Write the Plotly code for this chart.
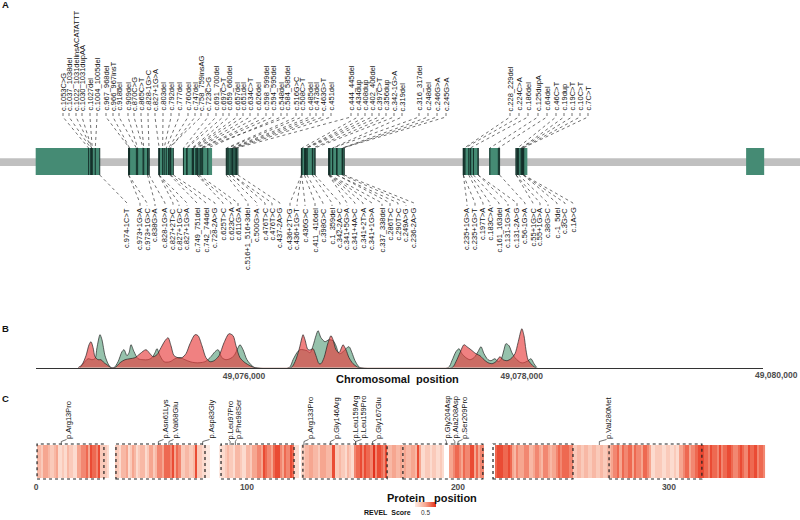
import re
import plotly.graph_objects as go

W, H = 800, 520
FONT = "Liberation Sans, Arial, sans-serif"
ORIGIN = 49_074_000

# ======================= DATA =======================
# ---- Panel A: gene model (minus strand), genomic coordinates ----
exon_start = [49074500, 49075170, 49075390, 49075560, 49075875, 49076415,
              49076615, 49077580, 49077765, 49077960, 49079615]
exon_end = [49074960, 49075315, 49075489, 49075770, 49075954, 49076509,
            49076720, 49077684, 49077839, 49078040, 49079745]
exon_cdna_first = [974, 828, 728, 517, 437, 342, 236, 131, 56, 1, None]
exon_cdna_last = [1053, 973, 827, 727, 516, 436, 341, 235, 130, 55, None]
exon_cdna_first_genomic = [49074960, 49075315, 49075489, 49075770, 49075954,
                           49076509, 49076720, 49077684, 49077839, 49078014, None]
gene_track_range = [49074243, 49080003]

top_variants = [
    "c.1053C>G", "c.1037_1038del", "c.1022_1031delinsACATATTT", "c.1030_1031dupAA",
    "c.1027del", "c.1004_1005del", "c.967_968del", "c.966_967insT", "c.918del",
    "c.909del", "c.870C>G", "c.865C>T", "c.828-1G>C", "c.827+1G>A", "c.803del",
    "c.792del", "c.777del", "c.760del", "c.747del", "c.758_759insAG", "c.723C>G",
    "c.691_700del", "c.697C>T", "c.659_660del", "c.657del", "c.651del", "c.634C>T",
    "c.626del", "c.598_599del", "c.594_595del", "c.548del", "c.584_585del",
    "c.516G>C", "c.508C>T", "c.485del", "c.473del", "c.463G>T", "c.451del",
    "c.444_445del", "c.434dup", "c.408dup", "c.402_406del", "c.397C>T", "c.356dup",
    "c.342-1G>A", "c.319del", "c.316_317del", "c.248del", "c.246G>A", "c.245G>A",
    "c.228_229del", "c.224C>A", "c.186del", "c.125dupA", "c.64del", "c.46C>T",
    "c.19dup", "c.19C>T", "c.10C>T", "c.7C>T"]

bottom_variants = [
    "c.974-1C>T", "c.973+1G>A", "c.973+1G>C", "c.838G>A", "c.828-1G>A",
    "c.827+2T>C", "c.827+1G>C", "c.827+1G>A", "c.749_751del", "c.742_744del",
    "c.728-2A>G", "c.625T>C", "c.623C>A", "c.611G>A", "c.516+1_516+3del",
    "c.500G>A", "c.476T>C", "c.476T>C", "c.437-2A>G", "c.436+2T>G", "c.436+1G>T",
    "c.436G>C", "c.411_416del", "c.398G>C", "c.1_359del", "c.342-2A>C",
    "c.341+5G>A", "c.341+4A>C", "c.341+2T>A", "c.341+1G>A", "c.337_338del",
    "c.286T>C", "c.290T>C", "c.249A>G", "c.236-2A>G", "c.235+1G>A", "c.235+1G>T",
    "c.197T>A", "c.183C>A", "c.161_163del", "c.131-1G>A", "c.131-2A>G",
    "c.56-1G>A", "c.55+1G>C", "c.55+1G>A", "c.38G>C", "c.-1_5del", "c.3G>C",
    "c.1A>G"]

# ---- Panel B: variant density along the chromosome (offset bp from 49,074,000) ----
density_red_offset = [
    805, 833, 862, 884, 898, 913, 927, 949, 970, 992, 1013, 1042,
    1071, 1107, 1143, 1179, 1215, 1251, 1294, 1323, 1345, 1373, 1402, 1431, 1453, 1474,
    1496, 1525, 1553, 1582, 1611, 1647, 1669, 1697, 1726, 1755, 1784, 1820, 1856, 1892,
    1921, 1942, 1971, 2007, 2043, 2079,
    2338, 2367, 2396, 2417, 2425, 2439, 2461, 2482, 2497, 2518, 2540, 2554, 2576, 2605,
    2626, 2641, 2662, 2684, 2705, 2713, 2734, 2756, 2785, 2813, 2828,
    3497, 3526, 3555, 3584, 3605, 3634, 3670, 3699, 3728, 3757, 3785, 3814, 3843, 3865,
    3893, 3922, 3951, 3973, 3994, 4001, 4016, 4030, 4045, 4066, 4088, 4102]
density_red = [
    0, 3, 12, 23, 26, 20, 11, 8, 8, 5, 3, 0,
    0, 5, 8, 9, 10, 14, 18, 14, 11, 13, 20, 27, 30, 22, 12, 10, 10, 14, 24, 33,
    32, 22, 10, 6, 7, 12, 25, 34, 32, 22, 10, 5, 2, 0,
    0, 6, 18, 30, 33, 28, 18, 18, 19, 12, 4, 4, 10, 25, 32, 28, 18, 15, 21, 23,
    18, 10, 4, 1, 0,
    0, 6, 15, 23, 21, 18, 14, 12, 8, 5, 4, 6, 11, 8, 7, 9, 14, 25, 37, 39,
    32, 18, 8, 4, 1, 0]
density_green_offset = [
    819, 848, 877, 905, 927, 941, 963, 977, 999, 1021, 1042,
    1064, 1093, 1121, 1136, 1157, 1172, 1186, 1208, 1237, 1273, 1309, 1337, 1359, 1373,
    1395, 1424, 1467, 1503, 1539, 1575, 1611, 1647, 1683, 1719, 1755, 1791, 1813, 1841,
    1870, 1899, 1928, 1957, 1971, 1993, 2021, 2057, 2079,
    2324, 2353, 2381, 2403, 2425, 2453, 2475, 2497, 2518, 2533, 2554, 2583, 2612, 2641,
    2662, 2684, 2705, 2734, 2756, 2777, 2799, 2821, 2835,
    3469, 3497, 3526, 3548, 3569, 3598, 3627, 3656, 3685, 3706, 3728, 3757, 3778, 3807,
    3829, 3850, 3872, 3886, 3908, 3929, 3951, 3973, 3994, 4016, 4045, 4066, 4088, 4109]
density_green = [
    0, 5, 9, 8, 9, 20, 33, 28, 12, 4, 0,
    0, 6, 16, 18, 12, 15, 23, 16, 9, 8, 8, 10, 15, 19, 12, 6, 6, 9, 10, 8,
    6, 5, 5, 6, 10, 16, 18, 10, 8, 9, 12, 20, 23, 18, 8, 2, 0,
    0, 8, 15, 18, 18, 17, 15, 22, 32, 37, 30, 26, 28, 27, 22, 14, 15, 19, 21, 15,
    7, 2, 0,
    0, 7, 16, 19, 14, 10, 8, 10, 16, 21, 14, 8, 7, 9, 6, 8, 18, 24, 22, 15,
    10, 7, 5, 5, 7, 9, 4, 0]
chrom_ticks = [49076000, 49078000]
chrom_tick_text = ["49,076,000", "49,078,000"]

# ---- Panel C: REVEL score per residue (tenths; '-' = no score) ----
revel_segments = [
    "4435543345", "2232433225", "5667587768", "3332", "---",
    "33244523542344235534", "66577768576", "3344334833", "2211", "----", "1",
    "2234332443224435", "5665876657886576687", "22-23", "44554435554448",
    "334332432", "6778687769688768", "4455445", "454455485", "22332332232", "--",
    "55677657668857566", "-----", "78887787", "5465556644566546654556", "7677766",
    "334434433443343344", "5667576677576657765", "2233322332232", "556775667888",
    "77687768677887667876687786776"]
domain_start = [0.5, 37.9, 87.7, 126.5, 173.9, 216.6, 271.6]
domain_end = [32.2, 80.1, 122.3, 166.4, 211.8, 254.5, 315.6]
protein_variants = ["p.Arg13Pro", "p.Asn61Lys", "p.Val68Glu", "p.Asp83Gly", "p.Leu97Pro",
                    "p.Phe98Ser", "p.Arg133Pro", "p.Gly146Arg", "p.Leu159Arg", "p.Leu159Pro",
                    "p.Gly167Glu", "p.Gly204Asp", "p.Ala208Asp", "p.Ser209Pro", "p.Val280Met"]
protein_variant_track_pos = [12, 58, 63, 79, 92, 94.5, 127, 139.5, 151.5, 151.5, 159.5,
                             194.5, 198.5, 200, 267]
protein_ticks = [0, 100, 200, 300]

# ======================= LAYOUT (label placement, px) =======================
TOP_LABEL_PX = [63, 69, 76, 82, 90, 97, 106, 113, 119, 128, 134, 141, 148, 155, 163,
                171, 179, 188, 195, 201, 208, 216, 223, 229, 237, 243, 250, 258, 266,
                273, 281, 287, 296, 302, 310, 316, 323, 331, 351, 358, 365, 372, 379,
                386, 394, 402, 419, 428, 437, 446, 510, 519, 528, 538, 547, 556, 564,
                572, 580, 588]
BOTTOM_LABEL_PX = [127, 140, 147, 155, 165, 173, 179, 187, 197, 206, 215, 223, 231,
                   238, 248, 257, 265, 272, 280, 290, 297, 305, 315, 323, 332, 340,
                   347, 355, 363, 372, 382, 390, 398, 406, 414, 467, 475, 483, 490,
                   499, 508, 517, 525, 533, 540, 548, 557, 565, 573]
PROT_LABEL_PX = [68, 165, 175, 211, 230, 238, 310, 336, 355, 363, 378, 447, 455, 464, 608]

EXON_TOP, EXON_BOT = 148, 175
TOP_TEXT_BOTTOM, BOT_TEXT_TOP = 112, 207
PANELB_BASE, PANELB_TOP = 367.7, 325.7
STRIP_TOP, STRIP_BOT = 445, 478
PROT_RANGE = [-17.06, 362.1]


def px_x(px):
    return px / W


def px_y(py):
    return 1 - py / H


# ======================= helpers =======================
POS_RE = re.compile(r"c\.(-?\d+(?:[+-]\d+)?)(?:_(-?\d+(?:[+-]\d+)?))?")


def variant_genomic(label):
    m = POS_RE.match(label)
    pos = m.group(2) or m.group(1)
    mm = re.match(r"(-?\d+)([+-]\d+)?", pos)
    base = int(mm.group(1))
    off = int(mm.group(2)) if mm.group(2) else 0
    idx = None
    for i, (cs, ce) in enumerate(zip(exon_cdna_first, exon_cdna_last)):
        if cs is not None and cs <= base <= ce:
            idx = i
            break
    if idx is None:  # 5' UTR
        idx = exon_cdna_first.index(1)
    return exon_cdna_first_genomic[idx] - (base - exon_cdna_first[idx]) - off


def gene_px_to_data(px):
    a, b = gene_track_range
    return a + px / W * (b - a)


def prot_px_to_data(px):
    a, b = PROT_RANGE
    return a + px / W * (b - a)


fig = go.Figure()

# ---------- Panel A ----------
shapes = []
shapes.append(dict(type="rect", xref="x", yref="y", x0=gene_track_range[0], x1=gene_track_range[1],
                   y0=-0.33, y1=0.24, fillcolor="#c0c0c0", line=dict(width=0), layer="below"))
for s, e in zip(exon_start, exon_end):
    shapes.append(dict(type="rect", xref="x", yref="y", x0=s, x1=e, y0=-1, y1=1,
                       fillcolor="#458B74", line=dict(width=0), layer="below"))

top_g = [variant_genomic(v) for v in top_variants]
bot_g = [variant_genomic(v) for v in bottom_variants]
mx, my = [], []
for g in top_g + bot_g:
    mx += [g, g, None]
    my += [-1, 1, None]
fig.add_trace(go.Scatter(x=mx, y=my, mode="lines", line=dict(color="#14302a", width=1),
                         xaxis="x", yaxis="y", hoverinfo="skip", showlegend=False))

path_top = ""
for g, lpx in zip(top_g, TOP_LABEL_PX):
    lx = gene_px_to_data(lpx)
    path_top += f"M{lx},{px_y(TOP_TEXT_BOTTOM + 1)} L{lx},{px_y(TOP_TEXT_BOTTOM + 5)} L{g},{px_y(EXON_TOP)} "
path_bot = ""
for g, lpx in zip(bot_g, BOTTOM_LABEL_PX):
    lx = gene_px_to_data(lpx)
    path_bot += f"M{g},{px_y(EXON_BOT)} L{lx},{px_y(BOT_TEXT_TOP - 4)} L{lx},{px_y(BOT_TEXT_TOP - 1)} "
for p in (path_top, path_bot):
    shapes.append(dict(type="path", xref="x", yref="paper", path=p,
                       line=dict(color="#333333", width=0.7, dash="dot")))

annotations = []
lab_font = dict(family=FONT, size=7.5, color="#111111")
for txt, lpx in zip(top_variants, TOP_LABEL_PX):
    annotations.append(dict(text=txt, x=px_x(lpx), y=px_y(TOP_TEXT_BOTTOM), xref="paper", yref="paper",
                            textangle=-90, xanchor="center", yanchor="bottom", showarrow=False,
                            font=lab_font, borderpad=0))
for txt, lpx in zip(bottom_variants, BOTTOM_LABEL_PX):
    annotations.append(dict(text=txt, x=px_x(lpx), y=px_y(BOT_TEXT_TOP), xref="paper", yref="paper",
                            textangle=-90, xanchor="center", yanchor="top", showarrow=False,
                            font=lab_font, borderpad=0))

# ---------- Panel B ----------
fig.add_trace(go.Scatter(x=[ORIGIN + v for v in density_green_offset], y=density_green,
                         mode="lines", fill="tozeroy", fillcolor="rgba(110,170,140,0.72)",
                         line=dict(color="#222222", width=0.7, shape="spline", smoothing=0.8),
                         xaxis="x2", yaxis="y2", hoverinfo="skip", showlegend=False))
fig.add_trace(go.Scatter(x=[ORIGIN + v for v in density_red_offset], y=density_red,
                         mode="lines", fill="tozeroy", fillcolor="rgba(232,62,62,0.65)",
                         line=dict(color="#222222", width=0.7, shape="spline", smoothing=0.8),
                         xaxis="x2", yaxis="y2", hoverinfo="skip", showlegend=False))

# ---------- Panel C ----------
revel = []
for seg in revel_segments:
    for ch in seg:
        revel.append(None if ch == "-" else int(ch) / 10)
residues = list(range(1, len(revel) + 1))
fig.add_trace(go.Heatmap(
    x=residues, y=[0], z=[revel], xaxis="x3", yaxis="y3", zmin=0.1, zmax=0.9,
    colorscale=[[0, "#fde9e1"], [0.15, "#fcd8cb"], [0.5, "#f6a690"], [0.85, "#eb5038"], [1, "#e2321f"]],
    hoverinfo="skip",
    colorbar=dict(orientation="h", x=px_x(425.5), xanchor="center", y=px_y(507.8), yanchor="middle",
                  len=21, lenmode="pixels", thickness=5, outlinewidth=0, xpad=0, ypad=0,
                  tickvals=[0.5], ticktext=["0.5"], ticks="",
                  tickfont=dict(family=FONT, size=6.5, color="#333333"))))

for s, e in zip(domain_start, domain_end):
    shapes.append(dict(type="rect", xref="x3", yref="y3", x0=s, x1=e, y0=-0.53, y1=0.53,
                       line=dict(color="#222222", width=1.2, dash="dot")))

path_p = ""
for r, lpx in zip(protein_variant_track_pos, PROT_LABEL_PX):
    lx = prot_px_to_data(lpx - 1.5)
    path_p += f"M{r},{px_y(STRIP_TOP)} L{r},{px_y(STRIP_TOP - 3.5)} L{lx},{px_y(STRIP_TOP - 5.5)} "
shapes.append(dict(type="path", xref="x3", yref="paper", path=path_p,
                   line=dict(color="#333333", width=0.7)))
for txt, lpx in zip(protein_variants, PROT_LABEL_PX):
    annotations.append(dict(text=txt, x=px_x(lpx), y=px_y(STRIP_TOP - 5), xref="paper", yref="paper",
                            textangle=-90, xanchor="center", yanchor="bottom", showarrow=False,
                            font=lab_font, borderpad=0))

# ---------- titles / panel letters ----------
bold = dict(family=FONT, color="#111111", weight="bold")
for letter, (lx, ly) in zip(["A", "B", "C"], [(5, 5), (5, 328), (5, 398)]):
    annotations.append(dict(text=letter, x=px_x(lx), y=px_y(ly), xref="paper", yref="paper",
                            showarrow=False, xanchor="center", yanchor="middle",
                            font=dict(size=9.5, **bold)))
annotations.append(dict(text="Chromosomal\u00a0\u00a0position", x=px_x(397.5), y=px_y(379),
                        xref="paper", yref="paper", showarrow=False, xanchor="center",
                        yanchor="middle", font=dict(size=11, **bold)))
annotations.append(dict(text="Protein\u00a0\u00a0\u00a0position", x=px_x(432), y=px_y(497.5),
                        xref="paper", yref="paper", showarrow=False, xanchor="center",
                        yanchor="middle", font=dict(size=11, **bold)))
annotations.append(dict(text="49,080,000", x=1.0, y=px_y(375), xref="paper", yref="paper",
                        showarrow=False, xanchor="right", yanchor="middle",
                        font=dict(family=FONT, size=8.5, color="#4d4d4d", weight="bold")))
annotations.append(dict(text="REVEL\u00a0\u00a0Score", x=px_x(413), y=px_y(512.7), xref="paper",
                        yref="paper", showarrow=False, xanchor="right", yanchor="middle",
                        font=dict(size=7, **bold)))

# y-range of the strip axis is padded so the dotted domain boxes are not clipped
strip_pad_px = 2
strip_unit = 1.0 / (STRIP_BOT - STRIP_TOP)
tickf = dict(family=FONT, size=8.5, color="#4d4d4d", weight="bold")
fig.update_layout(
    width=W, height=H, margin=dict(l=0, r=0, t=0, b=0),
    paper_bgcolor="white", plot_bgcolor="rgba(0,0,0,0)",
    font=dict(family=FONT),
    xaxis=dict(domain=[0, 1], range=gene_track_range, visible=False, anchor="y"),
    yaxis=dict(domain=[px_y(EXON_BOT), px_y(EXON_TOP)], range=[-1, 1], visible=False, anchor="x"),
    xaxis2=dict(domain=[px_x(36), px_x(763)], range=[ORIGIN + 502, ORIGIN + 5737], anchor="y2",
                showline=True, linecolor="#333333", linewidth=1, showgrid=False, zeroline=False,
                tickvals=chrom_ticks, ticktext=chrom_tick_text, ticks="", tickfont=tickf),
    yaxis2=dict(domain=[px_y(PANELB_BASE), px_y(PANELB_TOP)], range=[0, 42], visible=False,
                anchor="x2"),
    xaxis3=dict(domain=[0, 1], range=PROT_RANGE, anchor="y3", showline=False, showgrid=False,
                zeroline=False, tickvals=protein_ticks, ticks="", tickfont=tickf,
                ticklabelstandoff=0),
    yaxis3=dict(domain=[px_y(STRIP_BOT + strip_pad_px), px_y(STRIP_TOP - strip_pad_px)],
                range=[-0.5 - strip_pad_px * strip_unit, 0.5 + strip_pad_px * strip_unit],
                visible=False, anchor="x3"),
    shapes=shapes, annotations=annotations,
)

fig.write_html("out.html", config={"displayModeBar": False},
               post_script="document.body.style.margin='0';document.body.style.overflow='hidden';")
